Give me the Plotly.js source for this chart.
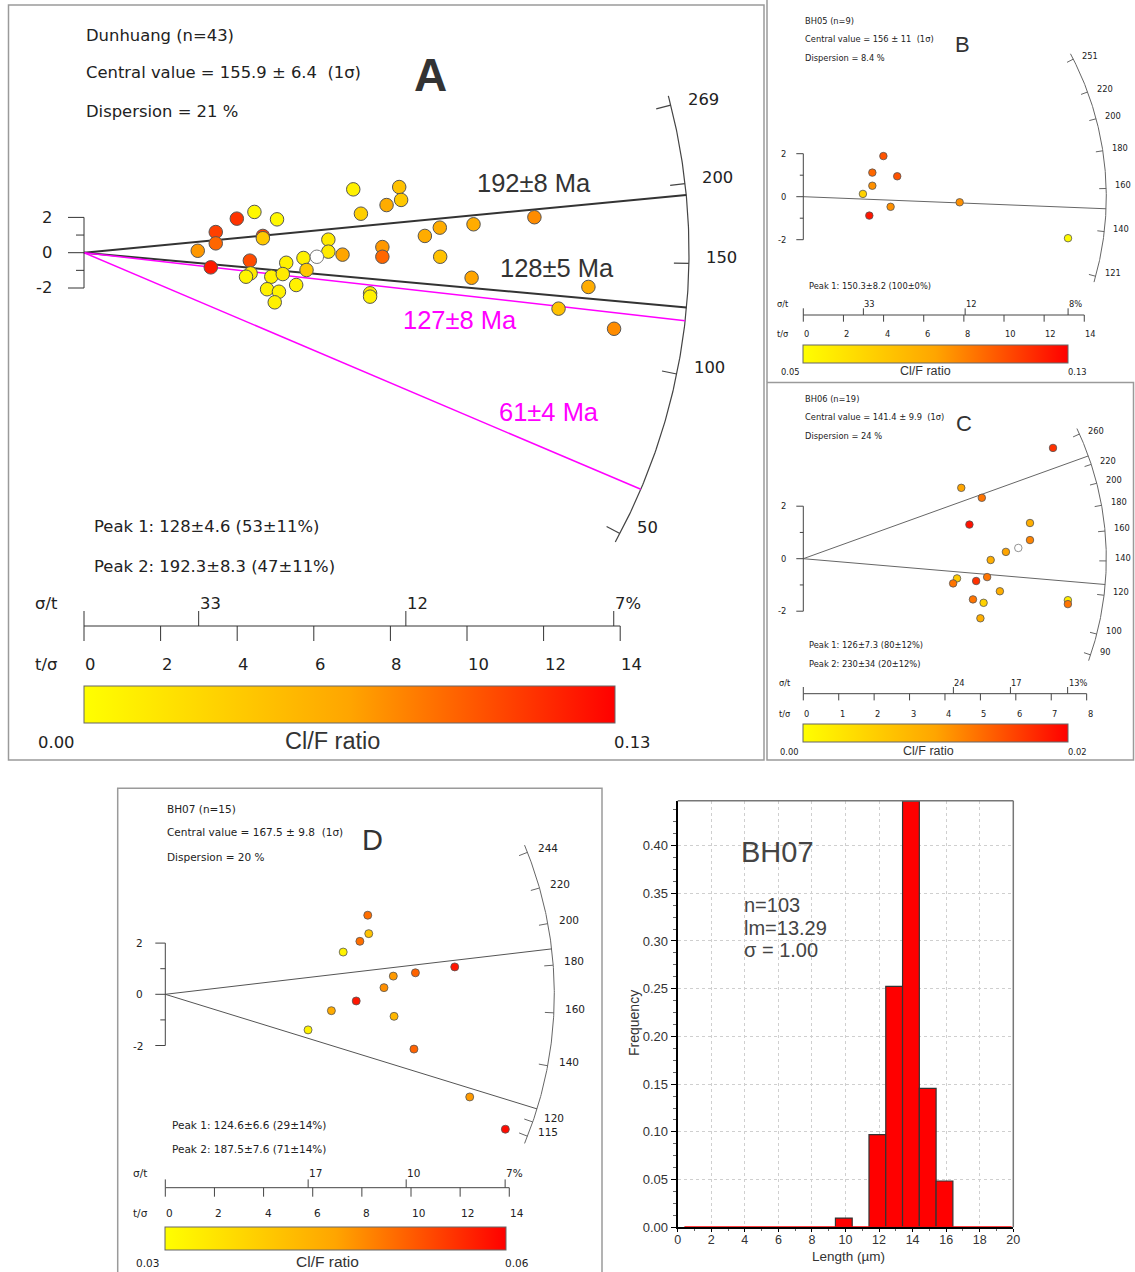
<!DOCTYPE html>
<html><head><meta charset="utf-8">
<script src="https://cdn.plot.ly/plotly-3.0.1.min.js"></script>
<style>html,body{margin:0;padding:0;background:#fff}#chart{width:1135px;height:1272px}</style>
</head><body><div id="chart"></div>
<script>
const W = 1135, H = 1272;

// ===== DATA =====
// Panel A : Dunhuang (n=43)
const aCentral = 155.9;
const aPrecision = [2.97,3.44,3.44,3.31,3.99,4.45,4.67,4.67,5.04,4.33,4.35,4.23,4.89,4.78,5.09,4.98,5.28,5.19,5.54,5.73,5.81,6.08,6.38,6.38,6.75,7.03,7.23,7.47,7.47,7.79,7.79,7.90,8.23,8.28,8.90,9.29,10.17,11.76,9.30,10.12,13.17,12.39,13.84];
const aStdEst    = [0.11,1.17,0.53,-0.83,1.93,2.31,0.95,0.82,1.89,-0.45,-1.17,-1.36,-1.36,-2.07,-2.21,-2.81,-0.57,-1.21,-1.83,-0.30,-0.98,-0.23,0.74,0.06,-0.11,3.59,2.21,-2.30,-2.49,0.32,-0.23,2.70,3.72,2.99,0.95,1.42,1.61,2.01,-0.23,-1.42,-1.94,-3.17,-4.31];
const aClF       = [0.07,0.105,0.09,0.12,0.11,0.005,0.105,0.04,0.005,0.1,0.015,0.008,0.01,0.01,0.01,0.01,0.01,0.015,0.01,0.01,0.04,null,0.015,0.015,0.065,0.01,0.035,0.01,0.01,0.07,0.09,0.06,0.045,0.04,0.06,0.06,0.06,0.075,0.045,0.065,0.06,0.045,0.075];
const aClFRange = [0, 0.13];
const aArcAges = [50,100,150,200,269];
const aPeakAges = [192,128];
const aPeakLabels = ['192±8 Ma','128±5 Ma'];
const aOverlayAges = [122,62];
const aOverlayLabels = ['127±8 Ma','61±4 Ma'];
const aTsTicks = [0,2,4,6,8,10,12,14];
const aSigmaTicks = [33.4,11.9,7.23];
const aSigmaLabels = ['33','12','7%'];
const aInfo = ['Dunhuang (n=43)','Central value = 155.9 ± 6.4\u00a0\u00a0(1σ)','Dispersion = 21 %'];
const aPeaks = ['Peak 1: 128±4.6 (53±11%)','Peak 2: 192.3±8.3 (47±11%)'];
const aRangeLabels = ['0.00','0.13'];

// Panel B : BH05 (n=9)
const bCentral = 156;
const bPrecision = [3.99,3.44,4.68,3.44,2.97,4.35,3.29,7.79,13.19];
const bStdEst    = [1.89,1.12,0.95,0.51,0.13,-0.47,-0.88,-0.26,-1.93];
const bClF       = [0.11,0.105,0.11,0.095,0.07,0.095,0.125,0.095,0.052];
const bClFRange = [0.05, 0.13];
const bArcAges = [121,140,160,180,200,220,251];
const bPeakAges = [150.3];
const bTsTicks = [0,2,4,6,8,10,12,14];
const bSigmaTicks = [33.4,12.4,7.58];
const bSigmaLabels = ['33','12','8%'];
const bInfo = ['BH05 (n=9)','Central value = 156 ± 11\u00a0\u00a0(1σ)','Dispersion = 8.4 %'];
const bPeaks = ['Peak 1: 150.3±8.2 (100±0%)'];
const bRangeLabels = ['0.05','0.13'];

// Panel C : BH06 (n=19)
const cCentral = 141.4;
const cPrecision = [7.05,4.46,5.04,4.69,6.40,6.40,6.07,5.72,5.29,4.34,4.23,4.88,5.19,5.55,4.79,5.09,5.00,7.47,7.47];
const cStdEst    = [4.22,2.70,2.32,1.30,1.36,0.71,0.41,0.26,-0.05,-0.75,-0.94,-0.85,-0.70,-1.24,-1.55,-1.68,-2.27,-1.58,-1.73];
const cClF       = [0.017,0.01,0.013,0.019,0.009,0.012,null,0.01,0.009,0.006,0.013,0.017,0.013,0.009,0.013,0.005,0.009,0.002,0.013];
const cClFRange = [0, 0.02];
const cArcAges = [90,100,120,140,160,180,200,220,260];
const cPeakAges = [126,230];
const cTsTicks = [0,1,2,3,4,5,6,7,8];
const cSigmaTicks = [23.6,17.1,13.4];
const cSigmaLabels = ['24','17','13%'];
const cInfo = ['BH06 (n=19)','Central value = 141.4 ± 9.9\u00a0\u00a0(1σ)','Dispersion = 24 %'];
const cPeaks = ['Peak 1: 126±7.3 (80±12%)','Peak 2: 230±34 (20±12%)'];
const cRangeLabels = ['0.00','0.02'];

// Panel D : BH07 (n=15)
const dCentral = 167.5;
const dPrecision = [8.24,8.28,7.92,7.24,11.78,10.18,9.28,8.90,7.77,6.76,9.31,5.81,10.12,12.39,13.84];
const dStdEst    = [3.09,2.37,2.07,1.65,1.07,0.84,0.71,0.26,-0.26,-0.64,-0.86,-1.39,-2.14,-4.01,-5.27];
const dClF       = [0.05,0.04,0.05,0.032,0.058,0.051,0.046,0.047,0.058,0.044,0.042,0.032,0.051,0.046,0.059];
const dClFRange = [0.03, 0.06];
const dArcAges = [115,120,140,160,180,200,220,244];
const dPeakAges = [124.6,187.5];
const dTsTicks = [0,2,4,6,8,10,12,14];
const dSigmaTicks = [17.2,10.2,7.23];
const dSigmaLabels = ['17','10','7%'];
const dInfo = ['BH07 (n=15)','Central value = 167.5 ± 9.8\u00a0\u00a0(1σ)','Dispersion = 20 %'];
const dPeaks = ['Peak 1: 124.6±6.6 (29±14%)','Peak 2: 187.5±7.6 (71±14%)'];
const dRangeLabels = ['0.03','0.06'];

const zTicks = [-2,-1,0,1,2];
const zLabels = [-2,0,2];

// Histogram BH07 track lengths
const histBinCenters = [9.9,11.9,12.9,13.9,14.9,15.9];
const histFreq = [0.0097,0.0971,0.2524,0.4466,0.1456,0.0485];
const histSpan = [0.4,19.9];
const histInfo = ['n=103','lm=13.29','σ = 1.00'];

// ===== STYLE / LAYOUT =====
const TAH = 'DejaVu Sans, Verdana, sans-serif';
const ARI = 'Liberation Sans, Arial, sans-serif';
const CS = [[0,'#ffff00'],[0.5,'#ffa500'],[1,'#ff0000']];
const traces = [], annotations = [], shapes = [];
const layout = {width:W, height:H, margin:{l:0,r:0,t:0,b:0,autoexpand:false},
  paper_bgcolor:'#ffffff', plot_bgcolor:'rgba(0,0,0,0)', showlegend:false, hovermode:false,
  annotations, shapes};

function pann(px, py, text, font, xanchor, extra){
  annotations.push(Object.assign({xref:'paper', yref:'paper', x:px/W, y:1-py/H, text, showarrow:false,
    xanchor:xanchor||'center', yanchor:'middle', font}, extra||{}));
}
function f(size, color, fam){ return {family:fam||TAH, size, color:color||'#222'}; }

function radial(c, d){
  const sfx = c.idx===1 ? '' : String(c.idx);
  const xa = 'x'+sfx, ya = 'y'+sfx;
  const X = px => (px-c.ox)/c.sx, Y = py => (c.oy-py)/c.sy;
  layout['xaxis'+sfx] = {domain:[c.box[0]/W, c.box[2]/W], range:[X(c.box[0]), X(c.box[2])], visible:false, fixedrange:true, anchor:ya};
  layout['yaxis'+sfx] = {domain:[1-c.box[3]/H, 1-c.box[1]/H], range:[Y(c.box[3]), Y(c.box[1])], visible:false, fixedrange:true, anchor:xa};
  const k = c.sy/c.sx;
  const ang = t => Math.atan(Math.log(t/d.central)*k);
  const pt = (a, r) => [r*Math.cos(a)/c.sx, r*Math.sin(a)/c.sy];
  const line = (xs, ys, color, width) => traces.push({type:'scatter', mode:'lines', x:xs, y:ys, xaxis:xa, yaxis:ya,
    line:{color, width}, hoverinfo:'skip', cliponaxis:false, connectgaps:false});

  // arc
  const a0 = ang(Math.min(...d.arcAges)) - c.arcExt, a1 = ang(Math.max(...d.arcAges)) + c.arcExt;
  const ax = [], ay = [];
  for (let j=0; j<=160; j++){ const p = pt(a0+(a1-a0)*j/160, c.R); ax.push(p[0]); ay.push(p[1]); }
  line(ax, ay, c.arcColor, c.arcWidth);
  const tx = [], ty = [];
  d.arcAges.forEach(t => {
    const a = ang(t), p1 = pt(a, c.R), p2 = pt(a, c.R-c.arcTick);
    tx.push(p1[0], p2[0], null); ty.push(p1[1], p2[1], null);
    annotations.push({xref:xa, yref:ya, x:p1[0], y:p1[1], xshift:c.labDx, yshift:-c.labDy, text:String(t),
      showarrow:false, xanchor:'left', yanchor:'middle', font:f(c.arcFont)});
  });
  line(tx, ty, c.arcColor, c.arcWidth);

  // peak lines
  d.peakAges.forEach(t => { const p = pt(ang(t), c.R); line([0,p[0]], [0,p[1]], c.peakColor, c.peakWidth); });
  if (d.overlayAges) d.overlayAges.forEach(t => { const p = pt(ang(t), c.R); line([0,p[0]], [0,p[1]], '#ff00ff', 1.5); });
  if (d.peakLabels) d.peakLabels.forEach((s,j) => pann(c.peakLab[j][0], c.peakLab[j][1], s, f(c.peakLabFont,'#333',ARI)));
  if (d.overlayLabels) d.overlayLabels.forEach((s,j) => pann(c.ovLab[j][0], c.ovLab[j][1], s, f(c.peakLabFont,'#ff00ff',ARI)));

  // z bracket
  const bx = [], by = [];
  bx.push(0,0,null); by.push(Math.min(...zTicks), Math.max(...zTicks), null);
  zTicks.forEach(z => {
    const len = zLabels.includes(z) ? c.brMajor : c.brMinor;
    bx.push(0, -len/c.sx, null); by.push(z, z, null);
  });
  line(bx, by, c.axColor, 1);
  zLabels.forEach(z => annotations.push({xref:xa, yref:ya, x:0, y:z, xshift:c.brLab, text:String(z), showarrow:false,
    xanchor:'right', yanchor:'middle', font:f(c.font)}));

  // precision scale (t/σ and σ/t)
  const y0 = Y(c.scaleY), tmax = Math.max(...d.tsTicks);
  const sx = [0,tmax,null], syy = [y0,y0,null];
  d.tsTicks.forEach(t => { sx.push(t,t,null); syy.push(y0, Y(c.scaleY+c.down), null); });
  [0].concat(d.sigmaTicks.map(s => 100/s)).forEach(x => { sx.push(x,x,null); syy.push(y0, Y(c.scaleY-c.up), null); });
  line(sx, syy, c.axColor, 1);
  d.tsTicks.forEach(t => annotations.push({xref:xa, yref:'paper', x:t, y:1-c.tsLabY/H, xshift:-1, text:String(t), showarrow:false,
    xanchor:'left', yanchor:'middle', font:f(c.font)}));
  d.sigmaTicks.forEach((s,j) => annotations.push({xref:xa, yref:'paper', x:100/s, y:1-c.stLabY/H, xshift:-1, text:d.sigmaLabels[j], showarrow:false,
    xanchor:'left', yanchor:'middle', font:f(c.font)}));
  pann(c.titleX, c.stLabY, 'σ/t', f(c.font));
  pann(c.titleX, c.tsLabY, 't/σ', f(c.font));

  // points
  const iC = [], iW = [];
  d.clf.forEach((v,j) => (v===null ? iW : iC).push(j));
  traces.push({type:'scatter', mode:'markers', xaxis:xa, yaxis:ya, cliponaxis:false, hoverinfo:'skip',
    x:iC.map(j=>d.prec[j]), y:iC.map(j=>d.z[j]),
    marker:{size:c.ms, color:iC.map(j=>d.clf[j]), colorscale:CS, cmin:d.clfRange[0], cmax:d.clfRange[1],
      line:{color:'#555', width:c.mlw}, showscale:true,
      colorbar:{orientation:'h', x:c.cb[0]/W, xanchor:'left', y:1-c.cb[2]/H, yanchor:'top',
        len:c.cb[1]-c.cb[0], lenmode:'pixels', thickness:c.cb[3]-c.cb[2], thicknessmode:'pixels',
        xpad:0, ypad:0, outlinewidth:1, outlinecolor:'#666', showticklabels:false, ticks:'', borderwidth:0}}});
  if (iW.length) traces.push({type:'scatter', mode:'markers', xaxis:xa, yaxis:ya, cliponaxis:false, hoverinfo:'skip',
    x:iW.map(j=>d.prec[j]), y:iW.map(j=>d.z[j]),
    marker:{size:c.ms, color:'#ffffff', line:{color:'#777', width:c.mlw}}});

  // colour-bar labels
  pann(c.minLab[0], c.minLab[1], d.rangeLabels[0], f(c.font));
  pann(c.maxLab[0], c.maxLab[1], d.rangeLabels[1], f(c.font));
  pann(c.cbTitle[0], c.cbTitle[1], 'Cl/F ratio', f(c.cbFont,'#333',ARI));

  // text blocks
  d.info.forEach((s,j) => pann(c.infoX, c.infoY[j], s, f(c.font), 'left'));
  d.peaks.forEach((s,j) => pann(c.peakX, c.peakY[j], s, f(c.font), 'left'));
  pann(c.letter[0], c.letter[1], c.letterBold ? '<b>'+c.letterText+'</b>' : c.letterText, f(c.letterFont,'#333',ARI));
}

radial({idx:1, box:[8,5,764,760], ox:84, oy:252.7, sx:38.3, sy:17.65, R:605, arcExt:0.016, arcTick:15, arcColor:'#444', arcWidth:1.2,
  labDx:15, labDy:-6, arcFont:16.4, font:16.4, peakColor:'#333', peakWidth:2, peakLabFont:25.5,
  peakLab:[[534,183],[557,268]], ovLab:[[460,320],[549,412]], axColor:'#333', brMajor:16, brMinor:8, brLab:-30,
  scaleY:626, down:15, up:15, tsLabY:664, stLabY:603, titleX:46, ms:13.5, mlw:1,
  cb:[84,614.5,686,723.3], minLab:[56.3,742.7], maxLab:[632,742.3], cbTitle:[332,741], cbFont:23.5,
  infoX:84, infoY:[36,73,111], peakX:92, peakY:[527,566], letter:[430,75], letterText:'A', letterBold:true, letterFont:46},
 {central:aCentral, prec:aPrecision, z:aStdEst, clf:aClF, clfRange:aClFRange, arcAges:aArcAges, peakAges:aPeakAges,
  peakLabels:aPeakLabels, overlayAges:aOverlayAges, overlayLabels:aOverlayLabels, tsTicks:aTsTicks, sigmaTicks:aSigmaTicks,
  sigmaLabels:aSigmaLabels, info:aInfo, peaks:aPeaks, rangeLabels:aRangeLabels});

radial({idx:2, box:[767,0,1134,382], ox:803.3, oy:196.7, sx:20.07, sy:21.5, R:303, arcExt:0.02, arcTick:7, arcColor:'#666', arcWidth:1,
  labDx:7, labDy:-3, arcFont:8.3, font:8.3, peakColor:'#666', peakWidth:1, axColor:'#444', brMajor:7, brMinor:3.5, brLab:-15,
  scaleY:315, down:6.7, up:6.7, tsLabY:334, stLabY:304, titleX:783, ms:7.5, mlw:0.8,
  cb:[803.3,1068.3,345,363.3], minLab:[790,372.3], maxLab:[1076.7,372], cbTitle:[925,370.7], cbFont:12.5,
  infoX:803.3, infoY:[20.7,39,58.3], peakX:806.7, peakY:[285.7], letter:[962.3,45], letterText:'B', letterFont:22},
 {central:bCentral, prec:bPrecision, z:bStdEst, clf:bClF, clfRange:bClFRange, arcAges:bArcAges, peakAges:bPeakAges,
  tsTicks:bTsTicks, sigmaTicks:bSigmaTicks, sigmaLabels:bSigmaLabels, info:bInfo, peaks:bPeaks, rangeLabels:bRangeLabels});

radial({idx:3, box:[767,382,1134,760], ox:803.3, oy:558.7, sx:35.42, sy:26.25, R:303, arcExt:0.02, arcTick:7, arcColor:'#666', arcWidth:1,
  labDx:7, labDy:-3, arcFont:8.3, font:8.3, peakColor:'#666', peakWidth:1, axColor:'#444', brMajor:7, brMinor:3.5, brLab:-15,
  scaleY:693.7, down:6.7, up:6.7, tsLabY:713.7, stLabY:682.7, titleX:785, ms:7.5, mlw:0.8,
  cb:[803.3,1068.3,723.7,742], minLab:[789,752], maxLab:[1076.7,752], cbTitle:[928.3,751], cbFont:12.5,
  infoX:803.3, infoY:[398.7,417,436.3], peakX:806.7, peakY:[645.3,663.7], letter:[964,423.7], letterText:'C', letterFont:22},
 {central:cCentral, prec:cPrecision, z:cStdEst, clf:cClF, clfRange:cClFRange, arcAges:cArcAges, peakAges:cPeakAges,
  tsTicks:cTsTicks, sigmaTicks:cSigmaTicks, sigmaLabels:cSigmaLabels, info:cInfo, peaks:cPeaks, rangeLabels:cRangeLabels});

radial({idx:4, box:[117,788,602,1272], ox:165.3, oy:994.3, sx:24.57, sy:25.6, R:389, arcExt:0.02, arcTick:9, arcColor:'#666', arcWidth:1,
  labDx:9, labDy:-4, arcFont:10.5, font:10.5, peakColor:'#555', peakWidth:1, axColor:'#444', brMajor:10, brMinor:5, brLab:-20,
  scaleY:1187.7, down:9, up:8.3, tsLabY:1212.7, stLabY:1173.3, titleX:140.3, ms:8, mlw:0.8,
  cb:[165.3,506.3,1226.7,1250], minLab:[147,1262.7], maxLab:[517,1262.7], cbTitle:[327.7,1261.7], cbFont:15.5,
  infoX:165.3, infoY:[809,832.3,857.3], peakX:170.3, peakY:[1125,1149], letter:[372.7,840], letterText:'D', letterFont:29},
 {central:dCentral, prec:dPrecision, z:dStdEst, clf:dClF, clfRange:dClFRange, arcAges:dArcAges, peakAges:dPeakAges,
  tsTicks:dTsTicks, sigmaTicks:dSigmaTicks, sigmaLabels:dSigmaLabels, info:dInfo, peaks:dPeaks, rangeLabels:dRangeLabels});

// panel borders
const border = {color:'#9a9a9a', width:1.5};
function rectPx(x0,y0,x1,y1){ shapes.push({type:'rect', xref:'paper', yref:'paper', x0:x0/W, x1:x1/W, y0:1-y1/H, y1:1-y0/H, line:border, fillcolor:'rgba(0,0,0,0)'}); }
function linePx(x0,y0,x1,y1,ln){ shapes.push({type:'line', xref:'paper', yref:'paper', x0:x0/W, x1:x1/W, y0:1-y0/H, y1:1-y1/H, line:ln||border}); }
rectPx(8.5,5,764,760);
linePx(767,0,767,382);
rectPx(767,382.5,1133.5,760);
rectPx(117.7,788.3,602,1280);

// ===== HISTOGRAM =====
const hx0 = 677.7, hx1 = 1013.3, hy0 = 800.7, hy1 = 1227.3;
layout.xaxis5 = {domain:[hx0/W, hx1/W], anchor:'y5', range:[0,20], tick0:0, dtick:2, ticks:'outside', ticklen:3, tickcolor:'#000',
  showline:true, linecolor:'#000', linewidth:2, showgrid:true, gridcolor:'#cfcfcf', griddash:'dot', gridwidth:1, zeroline:false,
  tickfont:{family:ARI, size:12.5, color:'#333'}, ticklabelstandoff:-3, fixedrange:true,
  minor:{ticks:'outside', ticklen:2, dtick:1, tickcolor:'#666', showgrid:false}};
layout.yaxis5 = {domain:[1-hy1/H, 1-hy0/H], anchor:'x5', range:[0,0.447], tick0:0, dtick:0.05, tickformat:'.2f', ticks:'outside', ticklen:5,
  tickcolor:'#000', showline:true, linecolor:'#000', linewidth:2, showgrid:true, gridcolor:'#cfcfcf', griddash:'dot', gridwidth:1,
  zeroline:false, tickfont:{family:ARI, size:13, color:'#333'}, fixedrange:true,
  minor:{ticks:'outside', ticklen:3, dtick:0.0125, tickcolor:'#666', showgrid:false}};
traces.push({type:'scatter', mode:'lines', xaxis:'x5', yaxis:'y5', x:[histSpan[0], histSpan[1]], y:[0,0],
  line:{color:'#ff0000', width:2}, hoverinfo:'skip'});
traces.push({type:'bar', xaxis:'x5', yaxis:'y5', x:histBinCenters, y:histFreq, width:1,
  marker:{color:'#ff0000', line:{color:'#333', width:1.2}}, hoverinfo:'skip'});
linePx(hx0, hy0, hx1, hy0, {color:'#777', width:1.5});
linePx(hx1, hy0, hx1, hy1, {color:'#777', width:1.5});
pann(777.3, 852.3, 'BH07', f(29,'#444',ARI));
histInfo.forEach((s,j) => pann(741.7, [905,927.7,950][j], s, f(20,'#444',ARI), 'left'));
pann(634, 1023, 'Frequency', f(14,'#333',ARI), 'center', {textangle:-90});
pann(848, 1256, 'Length (µm)', f(13.5,'#333',ARI));

Plotly.newPlot('chart', traces, layout, {staticPlot:true, displayModeBar:false});
</script>
</body></html>
